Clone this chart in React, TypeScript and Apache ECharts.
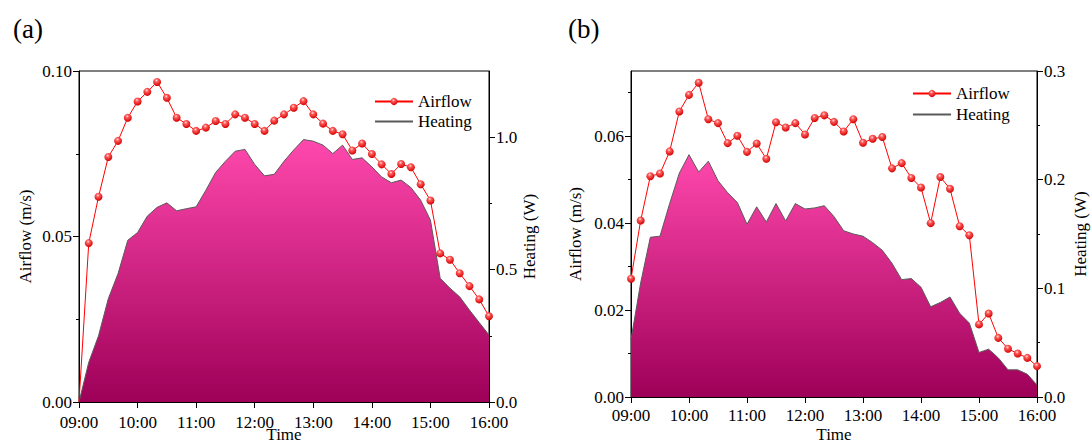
import React, { useEffect, useRef } from "react";
import * as echarts from "echarts";

const timeLabels = [
  "09:00", "09:10", "09:20", "09:30", "09:40", "09:50",
  "10:00", "10:10", "10:20", "10:30", "10:40", "10:50",
  "11:00", "11:10", "11:20", "11:30", "11:40", "11:50",
  "12:00", "12:10", "12:20", "12:30", "12:40", "12:50",
  "13:00", "13:10", "13:20", "13:30", "13:40", "13:50",
  "14:00", "14:10", "14:20", "14:30", "14:40", "14:50",
  "15:00", "15:10", "15:20", "15:30", "15:40", "15:50",
  "16:00",
];

const airflowA = [
  0, 0.048, 0.062, 0.074, 0.0789, 0.0859, 0.0908, 0.0937, 0.0967, 0.0919, 0.0859,
  0.084, 0.0819, 0.0829, 0.0849, 0.084, 0.0869, 0.0859, 0.084, 0.0819, 0.085,
  0.0869, 0.0889, 0.0909, 0.0869, 0.0841, 0.0819, 0.0809, 0.076, 0.0781, 0.0749,
  0.0718, 0.0689, 0.0719, 0.0709, 0.0658, 0.0609, 0.0449, 0.043, 0.0389, 0.035,
  0.031, 0.0259,
];

const heatingA = [
  0, 0.15, 0.25, 0.39, 0.485, 0.611, 0.64, 0.702, 0.735, 0.752, 0.722,
  0.73, 0.737, 0.8, 0.867, 0.909, 0.947, 0.954, 0.897, 0.854, 0.86,
  0.909, 0.952, 0.991, 0.985, 0.97, 0.938, 0.97, 0.916, 0.922, 0.888,
  0.85, 0.828, 0.838, 0.81, 0.762, 0.687, 0.467, 0.43, 0.397, 0.347,
  0.3, 0.253,
];

const airflowB = [
  0.0272, 0.0406, 0.0508, 0.0514, 0.0565, 0.0657, 0.0695, 0.0723, 0.0639, 0.063,
  0.0584, 0.0601, 0.0564, 0.0583, 0.0548, 0.0632, 0.062, 0.063, 0.0604, 0.0642,
  0.0648, 0.0633, 0.0611, 0.0639, 0.0585, 0.0594, 0.0598, 0.0526, 0.0538, 0.0504,
  0.0482, 0.04, 0.0506, 0.0479, 0.0393, 0.0372, 0.0167, 0.0192, 0.0136, 0.0111,
  0.01, 0.009, 0.0071,
];

const heatingB = [
  0.053, 0.105, 0.147, 0.148, 0.178, 0.206, 0.223, 0.207, 0.217, 0.199,
  0.188, 0.179, 0.159, 0.175, 0.161, 0.178, 0.162, 0.178, 0.173, 0.174,
  0.176, 0.166, 0.153, 0.15, 0.148, 0.142, 0.135, 0.123, 0.108, 0.109,
  0.101, 0.083, 0.087, 0.092, 0.077, 0.068, 0.041, 0.044, 0.036, 0.025,
  0.025, 0.021, 0.011,
];

const xTickLabels = ["09:00", "10:00", "11:00", "12:00", "13:00", "14:00", "15:00", "16:00"];

const FONT = "'Liberation Serif', 'Times New Roman', serif";

const toMin = (t: string) => {
  const [h, m] = t.split(":").map(Number);
  return (h - 9) * 60 + m;
};

export default function App() {
  const ref = useRef<HTMLDivElement>(null);

  useEffect(() => {
    document.body.style.margin = "0";
    if (!ref.current) return;
    const chart = echarts.init(ref.current, undefined, { renderer: "svg" });

    const mins = timeLabels.map(toMin);
    const pairs = (vals: number[]) => vals.map((v, i) => [mins[i], v]);

    const sphere = new echarts.graphic.RadialGradient(0.42, 0.32, 0.68, [
      { offset: 0, color: "#ffe0e0" },
      { offset: 0.3, color: "#ff5a5a" },
      { offset: 1, color: "#d40000" },
    ]);
    const areaGrad = () =>
      new echarts.graphic.LinearGradient(0, 0, 0, 1, [
        { offset: 0, color: "#ff48ad" },
        { offset: 1, color: "#9e0058" },
      ]);

    const xAxisBase = (gridIndex: number, nameGap: number, margin: number) => ({
      gridIndex,
      type: "value",
      min: 0,
      max: 420,
      interval: 60,
      name: "Time",
      nameLocation: "middle",
      nameGap,
      nameMoveOverlap: false,
      nameTextStyle: { fontFamily: FONT, fontSize: 17, color: "#000" },
      axisLine: { show: true, lineStyle: { color: "#000", width: 1 } },
      axisTick: { show: true, length: 6, lineStyle: { color: "#000" } },
      axisLabel: {
        fontFamily: FONT,
        fontSize: 17,
        color: "#000",
        margin,
        formatter: (v: number) => xTickLabels[Math.round(v / 60)] ?? "",
      },
      splitLine: { show: false },
    });

    const yBase = {
      type: "value",
      min: 0,
      nameLocation: "middle",
      nameRotate: 90,
      nameTextStyle: { fontFamily: FONT, fontSize: 17, color: "#000" },
      axisLine: { show: true, lineStyle: { color: "#000", width: 1 } },
      axisTick: { show: true, length: 6, lineStyle: { color: "#000" } },
      splitLine: { show: false },
    };
    const lbl = (digits: number, extra: any = {}) => ({
      fontFamily: FONT,
      fontSize: 17,
      color: "#000",
      margin: 7,
      formatter: (v: number) => v.toFixed(digits),
      ...extra,
    });
    const minorOverlay = (gridIndex: number, position: string, max: number, values: number[]) => ({
      gridIndex,
      type: "value",
      position,
      min: 0,
      max,
      axisLine: { show: false },
      axisLabel: { show: false },
      axisTick: { show: true, length: 3, customValues: values, lineStyle: { color: "#000" } },
      splitLine: { show: false },
    });

    const legendData = ["Airflow", { name: "Heating", itemStyle: { opacity: 0 } }];

    const option: any = {
      animation: false,
      backgroundColor: "#fff",
      title: [
        { text: "(a)", left: 8, top: 10, textStyle: { fontFamily: FONT, fontSize: 27, fontWeight: "normal", color: "#000" } },
        { text: "(b)", left: 563, top: 10, textStyle: { fontFamily: FONT, fontSize: 27, fontWeight: "normal", color: "#000" } },
      ],
      grid: [
        { left: 79, right: 603, top: 71, bottom: 43, show: true, borderColor: "#000", borderWidth: 1, backgroundColor: "transparent", outerBoundsMode: "none", containLabel: false },
        { left: 631, right: 55, top: 71, bottom: 48, show: true, borderColor: "#000", borderWidth: 1, backgroundColor: "transparent", outerBoundsMode: "none", containLabel: false },
      ],
      legend: [
        {
          left: 374, top: 93, orient: "vertical", padding: 0, itemGap: 3, itemWidth: 38, itemHeight: 9,
          textStyle: { fontFamily: FONT, fontSize: 17, color: "#000" },
          data: legendData,
        },
        {
          left: 912, top: 85, orient: "vertical", padding: 0, itemGap: 4, itemWidth: 38, itemHeight: 9,
          textStyle: { fontFamily: FONT, fontSize: 17, color: "#000" },
          data: legendData,
        },
      ],
      xAxis: [xAxisBase(0, 24, 12), xAxisBase(1, 29, 10)],
      yAxis: [
        {
          ...yBase, gridIndex: 0, position: "left", max: 0.1, interval: 0.05,
          name: "Airflow (m/s)", nameGap: 45,
          minorTick: { show: true, splitNumber: 2, length: 3, lineStyle: { color: "#000" } },
          axisLabel: lbl(2),
        },
        {
          ...yBase, gridIndex: 0, position: "right", max: 1.25,
          name: "Heating (W)", nameGap: 29,
          axisTick: { show: true, length: 6, customValues: [0, 0.5, 1.0], lineStyle: { color: "#000" } },
          axisLabel: lbl(1, { customValues: [0, 0.5, 1.0] }),
        },
        {
          ...yBase, gridIndex: 1, position: "left", max: 0.075,
          name: "Airflow (m/s)", nameGap: 47,
          axisTick: { show: true, length: 6, customValues: [0, 0.02, 0.04, 0.06], lineStyle: { color: "#000" } },
          axisLabel: lbl(2, { customValues: [0, 0.02, 0.04, 0.06] }),
        },
        {
          ...yBase, gridIndex: 1, position: "right", max: 0.3, interval: 0.1,
          name: "Heating (W)", nameGap: 35,
          minorTick: { show: true, splitNumber: 2, length: 3, lineStyle: { color: "#000" } },
          axisLabel: lbl(1),
        },
        minorOverlay(0, "right", 1.25, [0.25, 0.75]),
        minorOverlay(1, "left", 0.075, [0.01, 0.03, 0.05, 0.07]),
      ],
      series: [
        {
          name: "Heating", type: "line", xAxisIndex: 0, yAxisIndex: 1, data: pairs(heatingA),
          symbol: "none", z: 1,
          lineStyle: { color: "#5a5a5a", width: 1 }, itemStyle: { color: "#5a5a5a" },
          areaStyle: { color: areaGrad(), opacity: 1 },
        },
        {
          name: "Airflow", type: "line", xAxisIndex: 0, yAxisIndex: 0,
          data: pairs(airflowA).map((p, i) => (i === 0 ? { value: p, symbolSize: 0 } : p)),
          symbol: "circle", symbolSize: 8, z: 3, clip: false,
          lineStyle: { color: "#ff0000", width: 1 }, itemStyle: { color: sphere, borderWidth: 0 },
        },
        {
          name: "Heating", type: "line", xAxisIndex: 1, yAxisIndex: 3, data: pairs(heatingB),
          symbol: "none", z: 1,
          lineStyle: { color: "#5a5a5a", width: 1 }, itemStyle: { color: "#5a5a5a" },
          areaStyle: { color: areaGrad(), opacity: 1 },
        },
        {
          name: "Airflow", type: "line", xAxisIndex: 1, yAxisIndex: 2, data: pairs(airflowB),
          symbol: "circle", symbolSize: 8, z: 3,
          lineStyle: { color: "#ff0000", width: 1 }, itemStyle: { color: sphere, borderWidth: 0 },
        },
      ],
    };

    chart.setOption(option);
    return () => chart.dispose();
  }, []);

  return <div ref={ref} style={{ width: 1092, height: 445 }} />;
}
